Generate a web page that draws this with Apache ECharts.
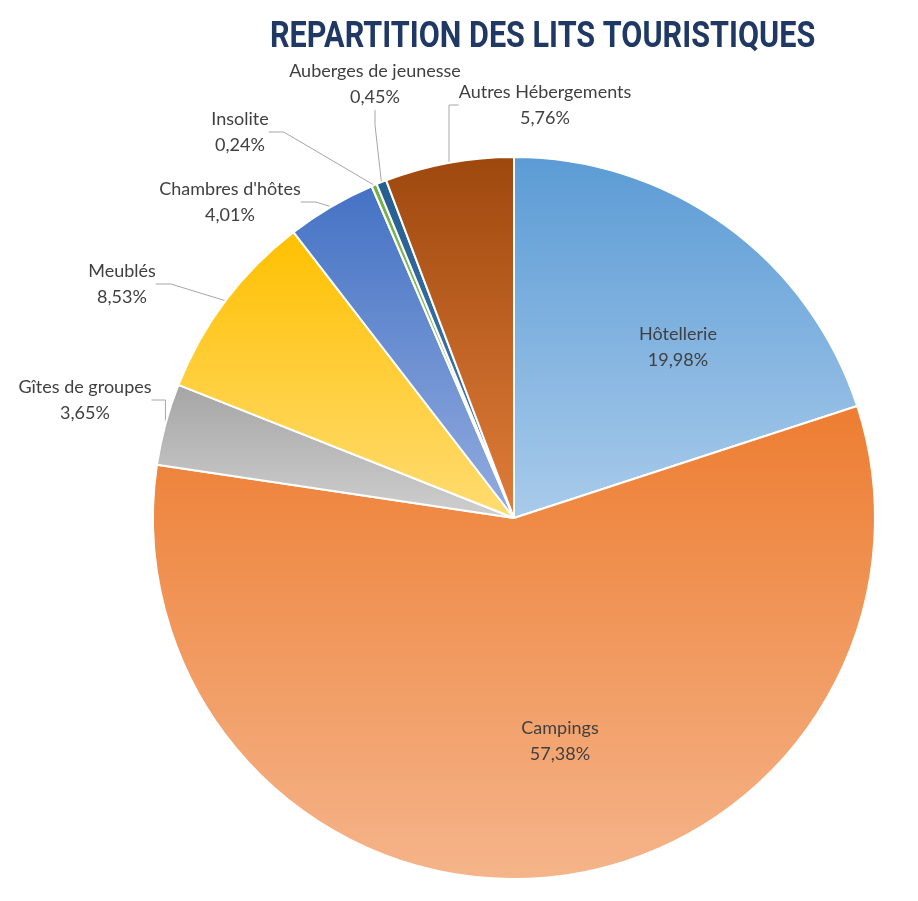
<!DOCTYPE html>
<html><head><meta charset="utf-8">
<script src="https://cdn.jsdelivr.net/npm/echarts@6/dist/echarts.min.js"></script>
<style>html,body{margin:0;padding:0;background:#fff}#c{width:918px;height:901px}</style>
</head><body><div id="c"></div>
<script>
const categories = ["Hôtellerie","Campings","Gîtes de groupes","Meublés","Chambres d'hôtes","Insolite","Auberges de jeunesse","Autres Hébergements"];
const values = [19.98,57.38,3.65,8.53,4.01,0.24,0.45,5.76];
const labelTexts = ["19,98%","57,38%","3,65%","8,53%","4,01%","0,24%","0,45%","5,76%"];
const colorPairs = [["#5b9bd5","#a9cbeb"],["#ed7d31","#f5b48a"],["#a5a5a5","#cfcfcf"],["#ffc000","#ffdc73"],["#4472c4","#93acdf"],["#70ad47","#a9d08e"],["#255e91","#4a7fb5"],["#9e480e","#e07d3a"]];
const insideIdx = [0,1];
// label block centres (layout only)
const labelPos = [[678,347],[560,741],[85,400],[122,284],[230,202],[240,132],[375,84],[545,105]];

const chart = echarts.init(document.getElementById('c'));
const data = categories.map((n,i)=>({
  name:n, value:values[i],
  itemStyle:{color:new echarts.graphic.LinearGradient(0,0,0,1,[{offset:0,color:colorPairs[i][0]},{offset:1,color:colorPairs[i][1]}])},
  label: insideIdx.includes(i) ? {position:'inside'} : {position:'outside'},
  labelLine: {show: !insideIdx.includes(i)}
}));
chart.setOption({
  animation:false,
  graphic:[{type:'text',left:270,top:20,scaleX:0.85,
    style:{text:'REPARTITION DES LITS TOURISTIQUES',font:'bold 36px Roboto, sans-serif',fill:'#1f3864'}}],
  series:[{
    type:'pie', center:[514,518], radius:361, startAngle:90, clockwise:true,
    data:data,
    itemStyle:{borderColor:'#fff',borderWidth:2},
    label:{formatter:p=>p.name+'\n'+labelTexts[p.dataIndex],fontFamily:'Lato,sans-serif',fontSize:18,color:'#404040',lineHeight:26,align:'center',overflow:'none'},
    labelLine:{length:25,length2:15,lineStyle:{color:'#a6a6a6',width:1}},
    labelLayout:p=>({x:labelPos[p.dataIndex][0],y:labelPos[p.dataIndex][1],align:'center',verticalAlign:'middle'})
  }]
});
</script></body></html>
